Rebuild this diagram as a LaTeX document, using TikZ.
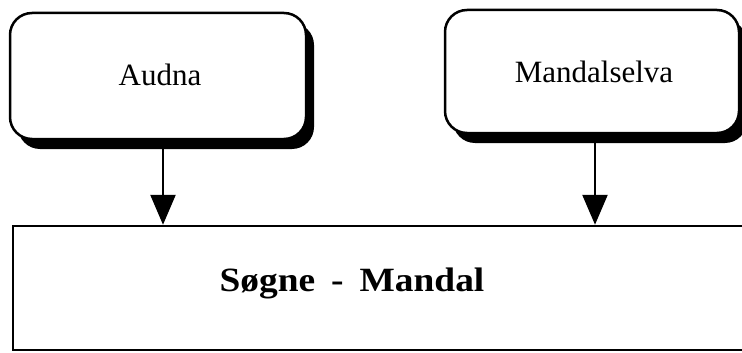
\documentclass[tikz,border=0pt]{standalone}
\usepackage{fontspec}
\setmainfont{Liberation Serif}
\newfontfamily\widebold[FakeStretch=1.1]{Liberation Serif}
\usetikzlibrary{arrows.meta,shadows}
\tikzset{
  riverbox/.style={draw=black, line width=2.5pt, fill=white, rounded corners=22pt,
    drop shadow={shadow xshift=8pt, shadow yshift=-10pt, fill=black, opacity=1},
    inner sep=0pt},
  bigbox/.style={draw=black, line width=2.5pt, fill=white, inner sep=0pt},
  flowarrow/.style={draw=black, line width=2.5pt, -{Triangle[length=30pt,width=25pt]}},
  rivertext/.style={font=\fontsize{31}{36}\selectfont, anchor=base},
  maintext/.style={font=\widebold\bfseries\fontsize{34}{38}\selectfont, anchor=base}
}
\begin{document}
\begin{tikzpicture}[x=1pt,y=-1pt]
\useasboundingbox (0,0) rectangle (742,353);
\fill[white] (0,0) rectangle (742,353);
\node[riverbox, minimum width=296pt, minimum height=126pt] (audna) at (158,76) {};
\node[riverbox, minimum width=294pt, minimum height=123pt] (mandalselva) at (592,71.5) {};
\node[bigbox, minimum width=760pt, minimum height=124pt] (sm) at (393,288) {};
\node[rivertext] (audnatext) at (160,85) {Audna};
\node[rivertext] (mandalseltext) at (594,82) {Mandalselva};
\node[maintext] (smtext) at (352,291) {Søgne\hspace{16pt}-\hspace{16pt}Mandal};
\draw[flowarrow] ([xshift=5pt,yshift=-9pt]audna.south) -- ([xshift=5pt]audna.south |- sm.north);
\draw[flowarrow] ([xshift=3pt,yshift=-9pt]mandalselva.south) -- ([xshift=3pt]mandalselva.south |- sm.north);
\end{tikzpicture}
\end{document}
